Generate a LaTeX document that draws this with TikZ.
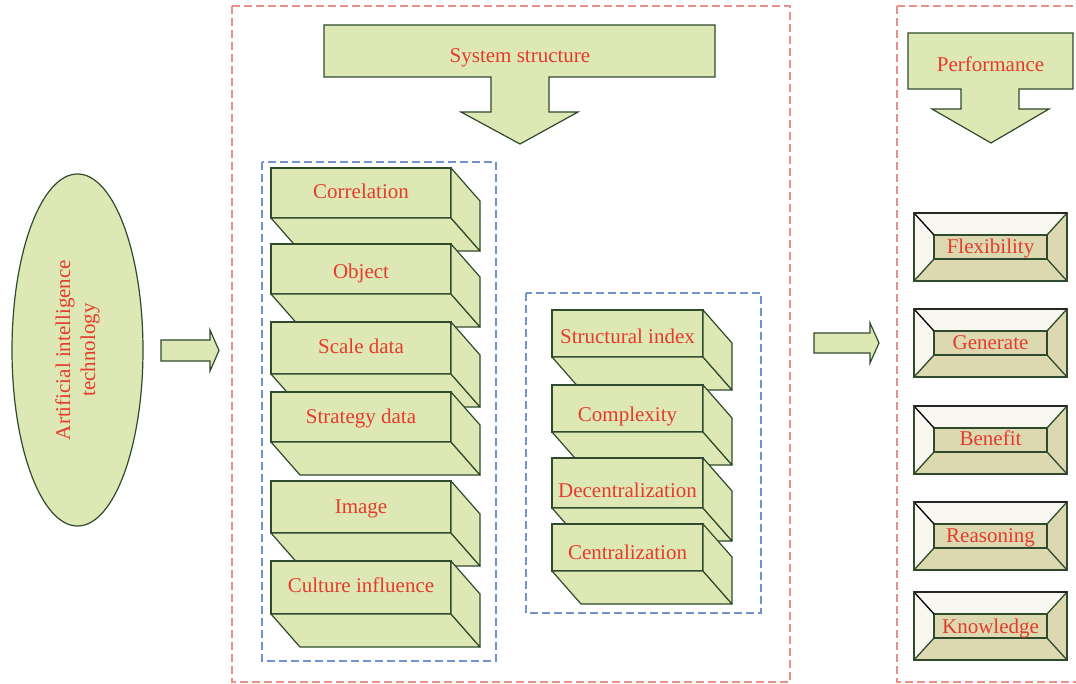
\documentclass[tikz,border=0pt]{standalone}
\usepackage{fontspec}
\setmainfont{Liberation Serif}
\usetikzlibrary{calc,shapes.geometric}

\definecolor{leaf}{HTML}{DEE8B5}
\definecolor{ink}{HTML}{2F4A2C}
\definecolor{label}{HTML}{E53B2C}
\definecolor{redash}{HTML}{E9908A}
\definecolor{bluedash}{HTML}{6E93CF}
\definecolor{pale}{HTML}{F8F8F1}
\definecolor{sand}{HTML}{DCD9B1}

\tikzset{
  lbl/.style={text=label, font=\fontsize{21}{25}\selectfont},
  slab/.style={lbl, draw=ink, fill=leaf, line width=1.2pt, inner sep=0pt,
    outer sep=0pt, anchor=north west},
  slabface/.style={draw=ink, fill=leaf, line width=1.2pt, line join=round},
  blockarrow/.style={draw=ink, fill=leaf, line width=1.2pt, line join=miter},
  panel/.style={dash pattern=on 8pt off 4pt, line width=1.1pt},
  bevout/.style={draw=ink, fill=sand, line width=1.3pt, inner sep=0pt,
    outer sep=0pt, anchor=north west, minimum width=153pt, minimum height=68pt},
  bevin/.style={lbl, draw=ink, fill=sand, line width=1.3pt, inner sep=0pt,
    outer sep=0pt, anchor=north west, minimum width=113pt},
}

% extruded block: name, left x, top y, width, height, baseline offset, text
\newcommand\slabbox[7]{%
  \node[slab, minimum width=#4pt, text height=#6pt,
    text depth={#5pt-#6pt}] (#1) at (#2,#3) {#7};
  \path[slabface] (#1.south west) -- ++(29,33) -- ($(#1.south east)+(29,33)$)
    -- (#1.south east) -- cycle;
  \path[slabface] (#1.north east) -- ++(29,33) -- ($(#1.south east)+(29,33)$)
    -- (#1.south east) -- cycle;
}

% bevelled button: name, top y, baseline offset in the inner panel, text
\newcommand\bevelbox[4]{%
  \node[bevout] (#1o) at (914,#2) {};
  \path[fill=pale] (#1o.north west) -- (#1o.north east) -- (934+113,#2+22)
    -- (934,#2+22) -- (934,#2+46) -- (#1o.south west) -- cycle;
  \node[bevin, text height=#3pt, text depth={24pt-#3pt}] (#1) at (934,#2+22) {#4};
  \draw[ink, line width=1.3pt] (#1o.north east) -- (#1.north east)
    (#1o.south west) -- (#1.south west)
    (#1o.south east) -- (#1.south east);
  \draw[black, line width=1.3pt] (#1o.north west) -- (#1.north west);
  \draw[ink, line width=1.3pt] (#1o.south west) -- (#1o.north west);
  \draw[ink, line width=1.3pt] (#1o.north east) -- (#1o.south east) -- (#1o.south west);
  \draw[black!85, line width=1.3pt] (#1o.north west) -- (#1o.north east);
}

\begin{document}
\begin{tikzpicture}[x=1pt, y=-1pt]
  \clip (0,0) rectangle (1076,684);
  \fill[white] (0,0) rectangle (1076,684);

  % dashed panels
  \draw[panel, redash] (232,6) rectangle (790,682);
  \draw[panel, redash] (897,6) rectangle (1095,682);
  \draw[panel, bluedash] (262,162) rectangle (496,661);
  \draw[panel, bluedash] (526,293) rectangle (761,613);

  % source ellipse
  \node[ellipse, draw=ink, fill=leaf, line width=1.2pt, inner sep=0pt,
    minimum width=131pt, minimum height=352pt] (ai) at (77.5,350) {};
  \node[lbl, rotate=90, align=center] (ailbl) at (ai.center)
    {Artificial intelligence\\technology};

  % block arrows between the panels
  \draw[blockarrow] (161,340) -- (210,340) -- (210,330) -- (219,350.5)
    -- (210,371) -- (210,361) -- (161,361) -- cycle;
  \draw[blockarrow] (814,333) -- (870,333) -- (870,323) -- (879,343)
    -- (870,363) -- (870,353) -- (814,353) -- cycle;

  % system structure header
  \draw[blockarrow] (324,25) -- (715,25) -- (715,77) -- (549,77) -- (549,112)
    -- (578,112) -- (520,144) -- (461,112) -- (491,112) -- (491,77)
    -- (324,77) -- cycle;
  \node[lbl, anchor=base] (sys) at (520,63) {System structure};

  % performance header
  \draw[blockarrow] (908,33) -- (1073,33) -- (1073,89) -- (1019,89) -- (1019,109)
    -- (1049,109) -- (991,143) -- (932,109) -- (961,109) -- (961,89)
    -- (908,89) -- cycle;
  \node[lbl, anchor=base] (perf) at (990.5,72) {Performance};

  % left stack
  \slabbox{corr}{271}{168}{180}{50}{31}{Correlation}
  \slabbox{obj}{271}{244}{180}{50}{35}{Object}
  \slabbox{scale}{271}{322}{180}{52}{32}{Scale data}
  \slabbox{strat}{271}{392}{180}{50}{31}{Strategy data}
  \slabbox{img}{271}{481}{180}{52}{32}{Image}
  \slabbox{cult}{271}{561}{180}{53}{31}{Culture influence}

  % right stack
  \slabbox{sidx}{552}{310}{151}{47}{34}{Structural index}
  \slabbox{cplx}{552}{385}{151}{47}{36}{Complexity}
  \slabbox{decen}{552}{458}{151}{50}{39}{Decentralization}
  \slabbox{cent}{552}{524}{151}{47}{35}{Centralization}

  % performance items
  \bevelbox{flex}{213}{18.5}{Flexibility}
  \bevelbox{gen}{309}{19}{Generate}
  \bevelbox{ben}{406}{17}{Benefit}
  \bevelbox{reas}{502}{18.5}{Reasoning}
  \bevelbox{know}{592}{19}{Knowledge}
\end{tikzpicture}
\end{document}
